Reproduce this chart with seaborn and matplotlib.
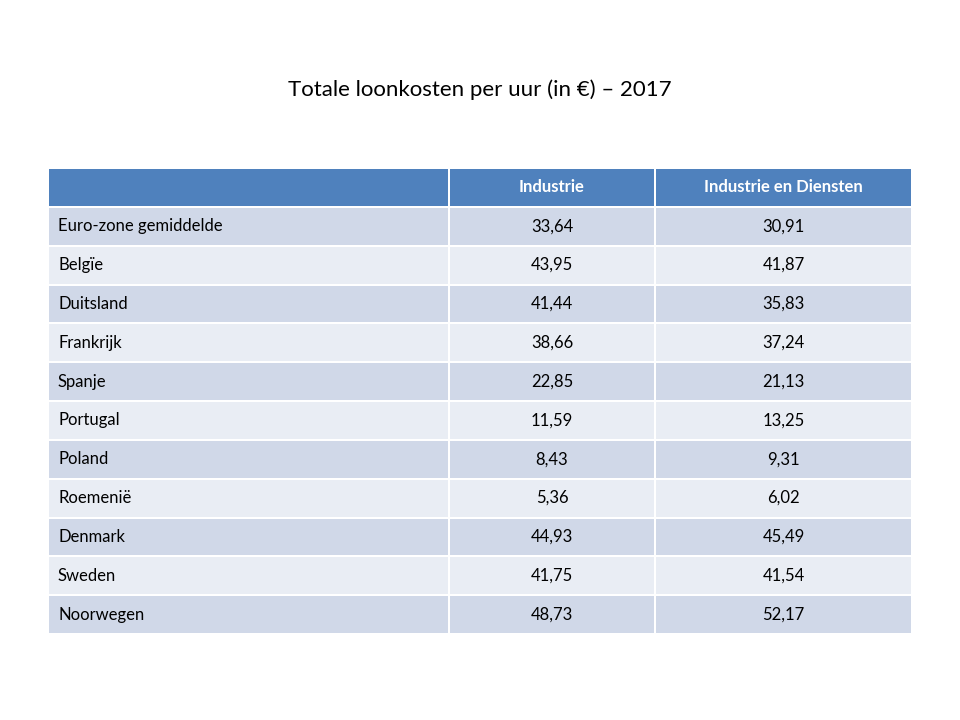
import numpy as np
import seaborn as sns
import matplotlib.pyplot as plt
from matplotlib.colors import ListedColormap

title = "Totale loonkosten per uur (in €) – 2017"
columns = ["", "Industrie", "Industrie en Diensten"]
countries = ["Euro-zone gemiddelde", "Belgïe", "Duitsland", "Frankrijk", "Spanje",
             "Portugal", "Poland", "Roemenië", "Denmark", "Sweden", "Noorwegen"]
industrie = ["33,64", "43,95", "41,44", "38,66", "22,85", "11,59", "8,43", "5,36",
             "44,93", "41,75", "48,73"]
diensten = ["30,91", "41,87", "35,83", "37,24", "21,13", "13,25", "9,31", "6,02",
            "45,49", "41,54", "52,17"]

sns.set_theme(style="white", font="Lato")
fig = plt.figure(figsize=(9.6, 7.2), dpi=100)
ax = fig.add_axes([48 / 960, 86 / 720, 864 / 960, 466 / 720])

xedges = np.array([0, 401, 607, 864])
nrows = len(countries) + 1
yedges = np.arange(nrows + 1)
# 0 = header, 1 = dark stripe, 2 = light stripe
cells = np.array([[0, 0, 0]] + [[1 + (i % 2)] * 3 for i in range(len(countries))])
cmap = ListedColormap(["#4F81BD", "#D0D8E8", "#E9EDF4"])
ax.pcolormesh(xedges, yedges, cells, cmap=cmap, vmin=-0.5, vmax=2.5,
              edgecolors="white", linewidth=1.2)
ax.set_xlim(0, 864)
ax.set_ylim(nrows, 0)
ax.axis("off")

centers = (xedges[:-1] + xedges[1:]) / 2
for j, c in enumerate(columns[1:], start=1):
    ax.text(centers[j], 0.5, c, ha="center", va="center", color="white",
            fontsize=12, fontweight="bold")
for i, (c, a, b) in enumerate(zip(countries, industrie, diensten), start=1):
    ax.text(10, i + 0.5, c, ha="left", va="center", fontsize=12, color="black")
    ax.text(centers[1], i + 0.5, a, ha="center", va="center", fontsize=12, color="black")
    ax.text(centers[2], i + 0.5, b, ha="center", va="center", fontsize=12, color="black")

fig.text(0.5, 1 - 90 / 720, title, ha="center", va="center", fontsize=16, color="black")
fig.savefig("out.png", dpi=100)
